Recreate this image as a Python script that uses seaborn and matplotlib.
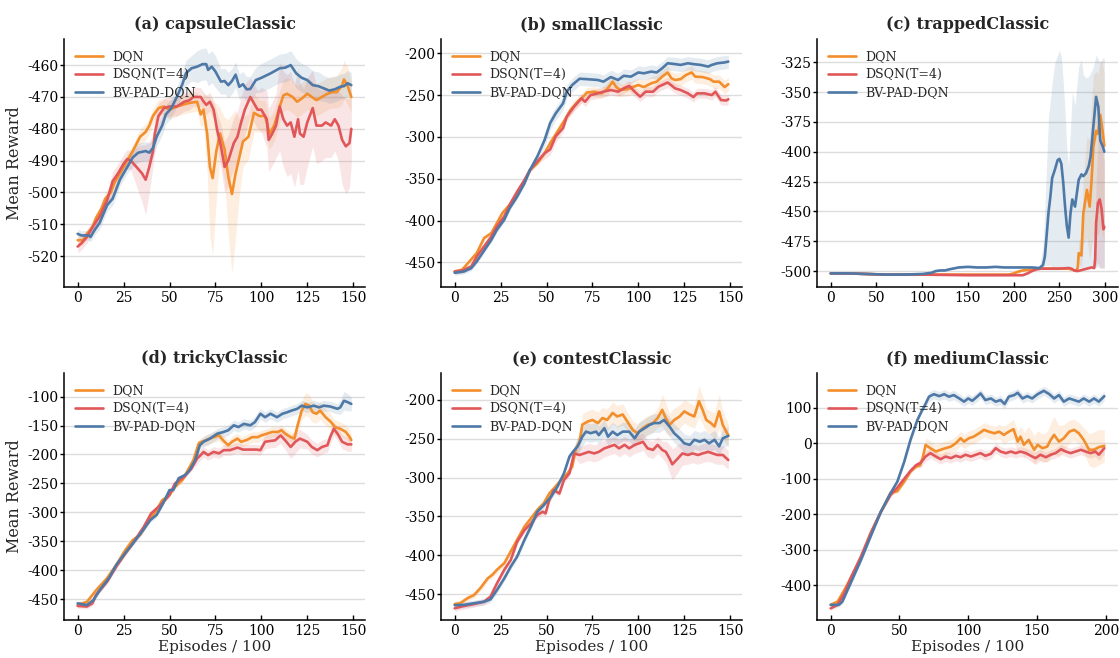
import numpy as np
import pandas as pd
import matplotlib
matplotlib.use("Agg")
import matplotlib.pyplot as plt
import seaborn as sns

# ---------------------------------------------------------------- data
METHODS = ["DQN", "DSQN(T=4)", "BV-PAD-DQN"]
COLORS = {"DQN": "#f28e2b", "DSQN(T=4)": "#e15759", "BV-PAD-DQN": "#4e79a7"}

# (a) capsuleClassic
cap_dqn_x = [0, 3, 5, 8, 10, 13, 15, 18, 20, 23, 25, 28, 30, 34, 37, 39, 41, 44, 47, 50, 54, 60, 65, 67, 68.5, 70.5, 72, 73.5, 75.5, 77.5, 80, 82, 84, 86, 88, 90, 93, 96, 99, 102, 104.5, 107, 109.5, 112, 114, 117, 119.5, 122, 125, 127.5, 130, 133, 136, 138.5, 141, 144, 145, 147, 149]
cap_dqn_y = [-515, -515, -513, -511, -508, -505, -502, -500, -497, -494, -492, -489, -487, -482.5, -481, -479, -476, -473.5, -473, -474, -473, -472, -471.5, -475.5, -474, -481.5, -492, -495.5, -487, -481.5, -486.5, -495, -500.5, -494, -489, -484, -482.5, -475, -476, -476, -481.5, -479, -474, -469.5, -469, -470, -471.5, -470.5, -469, -470, -471, -470, -469, -468.5, -468.5, -466.5, -464.5, -466.5, -470]
cap_dqn_sd = [1.5, 1.5, 1.5, 1.5, 1.5, 2, 2, 2, 2, 2, 2, 2, 2, 2.5, 2.5, 2.5, 2.5, 2.5, 2.5, 3, 3, 3, 3, 4, 5, 12, 22, 24, 15, 8, 10, 18, 25, 20, 12, 8, 7, 6, 5, 5, 5, 5, 5, 5, 5, 5, 5, 5, 5, 5, 5, 5, 5, 5, 5, 6, 6, 6, 5]

cap_dsqn_x = [0, 2, 5, 8, 12, 16, 19, 22, 25, 27, 29, 32, 35, 37, 39, 41, 42, 44, 47, 50, 54, 58, 61, 63, 67, 68, 70, 72, 74, 76, 78, 80, 82, 85, 87, 89, 91, 94, 96, 98, 100, 103, 104, 106, 108, 110, 112, 114, 116, 118, 120, 121, 123, 125, 128, 130, 133, 135, 138, 140, 142, 144, 146, 148, 149]
cap_dsqn_y = [-517, -516, -514, -511, -507.5, -502.5, -496.5, -494, -491, -489.5, -490, -492, -494, -496, -492, -487, -481.5, -476, -473.5, -473, -473, -471.5, -471, -470, -470, -471, -472.5, -471.5, -474, -480.5, -485.5, -492, -490, -484.5, -482.5, -478, -474, -470, -472, -474, -474, -477, -483.5, -481.5, -479, -473, -477, -479, -478, -482.5, -477, -481.5, -482.5, -478, -473.5, -479, -479, -478, -479, -477, -479, -483.5, -485.5, -484.5, -480]
cap_dsqn_sd = [2, 2, 2, 2, 2, 2, 3, 3, 3, 3, 3, 6, 9, 11, 8, 5, 5, 4, 3, 3, 3, 3, 3, 3, 3, 3, 3, 3, 3, 5, 7, 8, 8, 8, 8, 8, 8, 6, 6, 6, 7, 9, 10, 10, 10, 14, 15, 16, 16, 16, 16, 16, 15, 14, 12, 12, 11, 11, 10, 10, 11, 14, 15, 14, 11]

cap_bv_x = [0, 2, 4, 6, 7, 9, 12, 16, 19, 23, 27, 30, 33, 37, 39, 41, 43, 46, 48, 51, 54, 57, 59, 62, 65, 68, 70, 71, 73, 75, 78, 80, 82, 84, 86, 88, 90, 92, 94, 97, 100, 105, 110, 113, 116, 119, 122, 125, 128, 131, 134, 137, 140, 143, 145, 147, 149]
cap_bv_y = [-513, -513.5, -513.5, -513.5, -514, -512, -509.5, -504, -502, -496, -492, -489, -487.5, -487, -487.5, -486, -482.5, -479, -475.5, -473.5, -470, -466, -462.5, -461, -460.5, -459.7, -459.7, -461.5, -460.5, -462, -465.2, -465, -466.3, -465, -463, -466.8, -466, -467.6, -467.5, -464.7, -464, -462.6, -461, -460.8, -460, -462.6, -464, -464.7, -466.3, -466.6, -467.3, -468, -467.6, -466.8, -466.6, -465.7, -466.3]
cap_bv_sd = [1.5, 1.5, 1.5, 1.5, 1.5, 1.5, 2, 2, 2, 2, 2, 3, 3, 3, 3, 3, 3, 3, 3, 3, 3, 4, 4, 4, 5, 5, 5, 5, 5, 5, 4, 4, 4, 4, 4, 4, 4, 4, 4, 4, 4.5, 4.5, 4.5, 4.5, 4.5, 4.5, 4.5, 4.5, 4.5, 4.5, 4, 4, 4, 4, 4, 4, 4]

# (b) smallClassic
sml_dqn_x = [0, 4, 8, 12, 16, 20, 23, 26, 30, 34, 38, 41, 45, 49, 52, 56, 60, 63, 67, 70, 72, 76, 80, 83, 86, 88, 90, 94, 97, 100, 103, 107, 110, 113, 116, 118, 120, 123, 126, 129, 131, 135, 139, 141, 144, 147, 149]
sml_dqn_y = [-461, -459, -449, -439, -421, -415, -403, -391, -381, -367.5, -353.5, -339.5, -331.5, -319.5, -307.5, -293.5, -279.5, -268, -258, -252, -247, -246, -248, -243, -234, -240.5, -244, -243, -240.5, -238, -240.5, -236, -234, -228, -223, -230, -232, -231, -226, -223, -228, -228.5, -231, -234, -234, -240.5, -237]
sml_dqn_sd = [3, 3, 3, 3, 3, 3, 3, 3, 3, 3, 3, 3, 3, 3, 3, 3, 3, 6, 6, 6, 6, 6, 6, 8, 8, 8, 8, 8, 8, 8, 8, 8, 8, 8, 8, 8, 8, 8, 8, 8, 8, 8, 8, 8, 8, 8, 8]

sml_dsqn_x = [0, 4, 9, 12, 16, 20, 23, 27, 30, 34, 38, 41, 45, 49, 52, 55, 59, 61, 65, 69, 71, 74, 78, 81, 85, 89, 92, 95, 98, 101, 104, 108, 111, 116, 120, 123, 127, 130, 132, 136, 140, 142, 145, 148, 149]
sml_dsqn_y = [-461, -460, -455, -443, -431, -419, -407, -395, -381, -365.5, -351.5, -339.5, -329.5, -319.5, -315, -299.5, -289.5, -276, -264, -254, -258, -250, -248, -246, -244, -246, -242, -239, -246, -252, -246, -246, -240, -235, -242, -244, -248, -252.5, -248, -248, -250, -246, -256, -256.5, -255]
sml_dsqn_sd = [3, 3, 3, 3, 3, 3, 3, 3, 3, 3, 3, 3, 3, 7, 7, 7, 5, 5, 5, 5, 6, 6, 6, 6, 6, 6, 6, 6, 6, 6, 6, 6, 6, 6, 6, 6, 6, 6, 6, 6, 6, 6, 6, 6, 6]

sml_bv_x = [0, 5, 9, 12, 16, 20, 23, 27, 30, 34, 38, 41, 45, 49, 52, 55, 59, 61, 64, 68, 72, 78, 81, 85, 89, 92, 96, 100, 103, 107, 110, 113, 116, 120, 123, 127, 130, 134, 138, 140, 143, 147, 149]
sml_bv_y = [-462.5, -461, -457, -449, -436, -423, -411, -399, -385, -371.5, -355.5, -339.5, -323.5, -303.5, -283.5, -272, -260, -246, -238, -230.5, -231, -232, -234, -228.5, -232, -227, -228, -223, -224, -222, -223, -218, -212, -213, -214, -212, -213, -214, -216, -214, -212, -211, -210]
sml_bv_sd = [3, 3, 3, 3, 3, 3, 3, 3, 3, 3, 3, 3, 3, 8, 8, 8, 8, 8, 8, 8, 8, 8, 8, 8, 8, 8, 8, 8, 8, 8, 8, 8, 8, 8, 8, 8, 8, 8, 8, 8, 8, 8, 8]

# (c) trappedClassic  (asymmetric spread: below / above the mean)
trp_dqn_x = [0, 20, 40, 60, 100, 150, 195, 200, 205, 210, 220, 230, 240, 250, 260, 265, 268, 270, 271, 274, 276, 280, 283, 285, 287, 290, 292, 294.5, 296.5, 299]
trp_dqn_y = [-502, -502, -502.5, -503, -503, -503, -503, -502, -500.5, -499.5, -498.5, -498, -498, -498, -498, -499, -500, -497, -485, -487, -452, -432, -446, -425, -396, -382.5, -385, -369, -379, -395]
trp_dqn_lo = [0.8, 0.8, 0.8, 0.8, 0.8, 0.8, 0.8, 0.8, 0.8, 0.8, 0.8, 0.8, 0.8, 0.8, 0.8, 0.8, 0.8, 2, 8, 10, 25, 40, 45, 55, 75, 85, 85, 95, 90, 80]
trp_dqn_hi = [0.8, 0.8, 0.8, 0.8, 0.8, 0.8, 0.8, 0.8, 0.8, 0.8, 0.8, 0.8, 0.8, 0.8, 0.8, 0.8, 0.8, 3, 10, 15, 30, 45, 55, 65, 60, 50, 50, 45, 55, 60]

trp_dsqn_x = [0, 20, 40, 60, 100, 150, 200, 210, 215, 220, 225, 230, 240, 250, 260, 263, 266, 270, 275, 280, 285, 288, 289, 290, 292, 294, 296, 298, 299]
trp_dsqn_y = [-502, -502, -502.5, -503, -503, -503.5, -503.5, -503.5, -502, -500, -498.5, -498, -498, -498, -497.5, -498, -499.5, -500, -499, -498, -497, -497.5, -490, -460, -443, -440, -448, -465, -463]
trp_dsqn_lo = [0.8, 0.8, 0.8, 0.8, 0.8, 0.8, 0.8, 0.8, 0.8, 0.8, 0.8, 0.8, 0.8, 0.8, 0.8, 0.8, 0.8, 0.8, 0.8, 0.8, 0.8, 1, 5, 35, 50, 57, 50, 33, 35]
trp_dsqn_hi = [0.8, 0.8, 0.8, 0.8, 0.8, 0.8, 0.8, 0.8, 0.8, 0.8, 0.8, 0.8, 0.8, 0.8, 0.8, 0.8, 0.8, 0.8, 0.8, 0.8, 0.8, 2, 10, 35, 50, 55, 60, 60, 55]

trp_bv_x = [0, 20, 40, 60, 80, 100, 110, 115, 120, 125, 130, 140, 150, 160, 170, 180, 190, 200, 210, 220, 228, 232, 234, 236, 238, 240, 242, 245, 248, 250, 252, 254, 256, 258, 260, 262, 264, 267, 271, 274, 276, 279, 282, 284, 287, 290, 292.5, 294.5, 297.5, 299]
trp_bv_y = [-502, -502, -502.5, -503, -503, -502.5, -501.5, -500, -499.5, -499.5, -498.5, -497, -496.5, -497, -497, -496.5, -497, -497, -497, -497, -497.5, -495, -488, -470, -451, -438, -422, -415, -407, -406, -410, -425, -445, -462, -472, -452, -440, -446, -423.5, -419, -420.5, -418, -412, -404, -379, -354, -362.5, -390.5, -396, -400]
trp_bv_lo = [0.8, 0.8, 0.8, 0.8, 0.8, 0.8, 0.8, 0.8, 0.8, 0.8, 0.8, 0.8, 0.8, 0.8, 0.8, 0.8, 0.8, 0.8, 0.8, 0.8, 0.8, 3, 8, 25, 45, 57, 75, 82, 90, 91, 87, 72, 52, 35, 26, 45, 57, 51, 74, 78, 77, 79, 85, 93, 118, 143, 134, 107, 101, 97]
trp_bv_hi = [0.8, 0.8, 0.8, 0.8, 0.8, 0.8, 0.8, 0.8, 0.8, 0.8, 0.8, 0.8, 0.8, 0.8, 0.8, 0.8, 0.8, 0.8, 0.8, 0.8, 0.8, 15, 40, 60, 80, 80, 80, 90, 88, 91, 90, 85, 80, 65, 60, 70, 90, 85, 95, 96, 85, 80, 75, 70, 50, 35, 40, 65, 75, 78]

# (d) trickyClassic
trk_dqn_x = [0, 5, 10, 16, 21, 26, 30, 34, 38, 43, 46, 49, 53, 57, 60, 63, 66, 70, 74, 77, 79, 82, 84, 87, 89, 92, 95, 98, 100, 103, 106, 109, 111, 113, 116, 118, 119.5, 122, 124, 126, 128, 130, 132, 135, 138, 140, 143, 146, 148, 149]
trk_dqn_y = [-460, -455, -435, -414, -391, -365, -348, -339, -319, -296, -279, -273, -256, -244, -227, -210, -180, -175, -170, -167, -175, -184, -178, -172.5, -178, -175, -170, -170, -167, -164, -161, -161, -158, -164, -170, -172.5, -152.5, -124, -112.5, -115.5, -127, -129.5, -124, -135.5, -144, -152.5, -155.5, -161, -169.5, -175]
trk_dqn_sd = [4, 4, 4, 4, 4, 4, 4, 4, 4, 4, 4, 4, 4, 4, 4, 6, 6, 9, 9, 9, 9, 9, 9, 9, 9, 9, 9, 9, 9, 9, 9, 9, 9, 9, 9, 9, 12, 16, 20, 20, 18, 16, 15, 14, 13, 13, 12, 12, 12, 10]

trk_dsqn_x = [0, 5, 8, 10, 16, 21, 26, 30, 36, 40, 45, 50, 53, 58, 62, 65, 67, 68.5, 71, 74, 77, 79.5, 83, 87, 90, 94, 97.5, 99.5, 102, 105, 107.5, 110.5, 113, 116, 118.5, 121, 125, 127.5, 130.5, 133, 136, 137.5, 139.5, 141.5, 144, 147, 149]
trk_dsqn_y = [-462, -463, -457.5, -443, -420, -394, -371, -354, -325, -302, -287.5, -270, -250, -238.5, -224, -207, -201, -195.5, -201, -195.5, -198, -192.5, -192.5, -188, -191.5, -191.5, -191.5, -192.5, -178, -176.5, -175.5, -167, -175.5, -187, -178, -172.5, -178, -187, -192.5, -187, -184, -170, -155.5, -164, -178, -182.5, -182.5]
trk_dsqn_sd = [4, 4, 4, 4, 4, 4, 4, 4, 4, 4, 4, 4, 4, 4, 4, 9, 9, 9, 9, 9, 9, 9, 9, 9, 9, 9, 9, 9, 12, 12, 12, 14, 16, 20, 20, 16, 13, 12, 12, 12, 12, 12, 12, 12, 12, 12, 12]

trk_bv_x = [0, 5, 8.5, 12, 17, 21, 26, 30, 35, 39.5, 43, 46.5, 50, 52, 55, 58.5, 61, 64, 66.5, 68.5, 72, 76, 79.5, 82, 85, 87.5, 90.5, 94, 96.5, 99.5, 102, 105, 108.5, 111.5, 114, 116.5, 119.5, 122, 125, 128.5, 131.5, 134, 137.5, 141.5, 143, 145, 147, 149]
trk_bv_y = [-457.5, -460.5, -452, -434.5, -414, -391, -370, -354, -333.5, -313.5, -304.5, -284.5, -261.5, -261.5, -241, -235.5, -227, -209.5, -184, -178, -172.5, -164, -161, -158, -149.5, -152.5, -147, -149.5, -144, -129.5, -135.5, -129.5, -135.5, -129.5, -127, -124, -121, -115.5, -118.5, -115.5, -118.5, -115.5, -117, -121, -118.5, -107, -109.5, -112.5]
trk_bv_sd = [4, 4, 4, 4, 4, 4, 4, 4, 4, 4, 4, 4, 4, 4, 4, 4, 4, 4, 9, 9, 9, 9, 9, 9, 9, 9, 9, 9, 9, 9, 9, 9, 9, 9, 9, 9, 9, 9, 9, 9, 9, 9, 9, 9, 12, 16, 15, 12]

# (e) contestClassic
cnt_dqn_x = [0, 3, 7, 10.5, 14, 18, 20.5, 23, 27, 30.5, 34, 38, 41.5, 45, 48.5, 51.5, 54, 58, 61.5, 64, 66, 68, 69.5, 72.5, 75, 78, 80.5, 83, 86, 88.5, 91.5, 94, 97, 99.5, 102.5, 105, 108, 110.5, 113, 114.5, 117, 119.5, 122.5, 125, 128, 130.5, 133, 135, 137, 139.5, 141.5, 144, 146, 149]
cnt_dqn_y = [-462.5, -461.5, -455, -451, -442, -429.5, -425, -418.5, -410, -395, -380, -363, -352.5, -341.5, -333, -320.5, -314, -303, -294.5, -286, -262.5, -254, -232, -228, -226, -230, -223.5, -226, -217, -221.5, -219, -228, -239, -243, -236.5, -232.5, -230, -223.5, -213, -221.5, -232.5, -226, -221.5, -215, -219, -221.5, -202, -213, -226, -230, -234.5, -215, -232.5, -246]
cnt_dqn_sd = [4, 4, 4, 4, 4, 4, 4, 4, 4, 4, 4, 4, 4, 4, 4, 4, 4, 4, 4, 4, 8, 10, 14, 14, 14, 14, 14, 14, 14, 14, 14, 12, 12, 12, 12, 12, 12, 12, 20, 20, 15, 15, 15, 15, 15, 15, 20, 18, 15, 15, 18, 22, 18, 15]

cnt_dsqn_x = [0, 5, 10.5, 16, 19.5, 23, 27, 30.5, 34, 38, 41.5, 45, 48, 49.5, 51.5, 54, 57, 59.5, 62.5, 65, 68, 70.5, 73, 76, 78.5, 81.5, 84, 87, 89.5, 92.5, 95, 98, 100.5, 102.5, 105, 108, 110.5, 113, 115, 117, 118.5, 121.5, 124, 127, 129.5, 132.5, 135, 138, 140.5, 143, 146, 149]
cnt_dsqn_y = [-468, -465, -462.5, -459.5, -453, -436, -418.5, -406, -382.5, -367.5, -359, -348, -344, -346, -329, -316, -320.5, -303, -294.5, -269, -271, -269, -267, -269, -267, -262.5, -260.5, -258, -262.5, -258, -262.5, -258, -256, -254, -262.5, -264.5, -258, -264.5, -267, -275.5, -283, -275.5, -269, -271, -269, -271, -269, -267, -269, -271, -271, -277.5]
cnt_dsqn_sd = [4, 4, 4, 4, 4, 4, 4, 4, 4, 4, 4, 4, 4, 4, 4, 4, 4, 4, 4, 4, 11, 11, 11, 11, 11, 11, 11, 11, 11, 11, 11, 11, 11, 11, 11, 11, 11, 11, 14, 18, 20, 18, 15, 12, 12, 12, 12, 12, 12, 12, 12, 12]

cnt_bv_x = [0, 5, 10.5, 16, 19.5, 23, 27, 30.5, 34, 38, 41.5, 45, 48.5, 52.5, 56, 59.5, 62.5, 64.5, 67, 69.5, 71.5, 74, 77, 78.5, 81.5, 83.5, 86, 88.5, 91.5, 95, 98, 100.5, 103.5, 106, 108.5, 111.5, 114, 117, 119.5, 122.5, 125, 128, 130.5, 133.5, 136, 138.5, 141.5, 144, 146, 149]
cnt_bv_y = [-464, -463.5, -461.5, -459.5, -456.5, -444.5, -429.5, -414.5, -401.5, -380, -363, -344, -335.5, -324.5, -311.5, -294.5, -273, -266.5, -260, -247.5, -241, -243, -241, -245.5, -236.5, -247.5, -241, -245.5, -241, -241, -249.5, -241, -236.5, -232.5, -230, -230, -226, -234.5, -243, -249.5, -256, -258, -251.5, -254, -251.5, -256, -251.5, -260, -249.5, -246.5]
cnt_bv_sd = [4, 4, 4, 4, 4, 4, 4, 4, 4, 4, 4, 4, 4, 4, 4, 4, 4, 4, 12, 12, 12, 12, 12, 12, 12, 12, 12, 12, 12, 12, 12, 12, 12, 12, 12, 12, 12, 12, 12, 12, 12, 12, 12, 12, 12, 12, 12, 12, 12, 12]

# (f) mediumClassic
med_dqn_x = [0, 5, 10, 14.5, 22, 29, 36.5, 43.5, 48.5, 53.5, 58, 62, 65, 67, 69, 72.5, 76.5, 80, 83.5, 87.5, 91, 94.5, 97, 100.5, 104, 108, 111.5, 115, 119, 122.5, 126, 129.5, 133, 136, 138, 140.5, 144, 148, 150.5, 154, 157.5, 160, 162.5, 166, 169.5, 173.5, 177, 180.5, 184, 188, 191.5, 195, 199]
med_dqn_y = [-455, -446, -413, -380, -324, -254, -193, -140, -135, -108, -80, -66, -62, -40, -5, -14, -23.5, -18.5, -14, -9.5, 0, 14, 4.5, 14, 18.5, 28, 37.5, 32.5, 28, 32.5, 23.5, 32.5, 39.5, 4.5, 18.5, -4.5, 9.5, -18.5, -4.5, -14, -9.5, 9.5, 23.5, 4.5, 14, 32.5, 37.5, 28, 9.5, -18.5, -18.5, -11, -7.5]
med_dqn_sd = [6, 6, 6, 6, 6, 6, 6, 6, 6, 6, 6, 6, 6, 10, 20, 20, 20, 20, 20, 20, 20, 20, 20, 20, 20, 20, 20, 20, 20, 20, 25, 25, 28, 30, 30, 35, 38, 40, 40, 40, 42, 48, 52, 45, 38, 32, 30, 30, 35, 45, 50, 50, 45]

med_dsqn_x = [0, 5, 10, 14.5, 22, 29, 36.5, 43.5, 48.5, 53.5, 58, 62, 65.5, 69, 72.5, 76.5, 80, 83.5, 87.5, 91, 94.5, 98, 102, 105.5, 109, 112.5, 116.5, 120, 123.5, 127.5, 131, 134.5, 138, 142, 145.5, 149, 152.5, 156.5, 160, 163.5, 167.5, 171, 174.5, 178, 182, 185.5, 189, 192.5, 195, 199]
med_dsqn_y = [-465, -455, -422, -380, -319, -254, -193, -146, -125, -100, -78, -62, -55, -37.5, -28, -37.5, -45, -37.5, -42, -35.5, -39.5, -32.5, -37.5, -32.5, -28, -35.5, -30, -14, -23.5, -28, -23.5, -28, -23.5, -28, -35.5, -42, -32.5, -39.5, -32.5, -28, -17, -23.5, -28, -23.5, -18.5, -23.5, -28, -23.5, -32.5, -14]
med_dsqn_sd = [6, 6, 6, 6, 6, 6, 6, 6, 6, 6, 6, 6, 14, 14, 14, 14, 14, 14, 14, 14, 14, 14, 14, 14, 14, 14, 14, 14, 14, 14, 14, 14, 14, 14, 16, 18, 16, 14, 14, 14, 14, 14, 14, 14, 14, 14, 14, 14, 16, 16]

med_bv_x = [0, 6, 8.5, 14.5, 22, 29, 36.5, 43.5, 48.5, 53.5, 58, 63, 66.5, 68, 71.5, 75, 79, 82.5, 86, 89.5, 93.5, 97, 100, 103, 106.5, 109, 112.5, 116.5, 120, 123.5, 126.5, 129.5, 133.5, 136, 139.5, 143, 146.5, 150.5, 155, 159, 162.5, 166, 169.5, 173.5, 177, 180.5, 184, 188, 191.5, 195, 199]
med_bv_y = [-455, -455, -446, -394, -329, -263, -193, -141, -108, -52, 9, 65, 93, 103, 131, 138, 132.5, 138, 131, 135.5, 126, 117, 126, 119.5, 131, 140, 121.5, 126, 117, 121.5, 110.5, 131, 135.5, 142, 126, 132.5, 126, 138, 147.5, 138, 126, 135.5, 117, 126, 121.5, 117, 126, 117, 126, 117, 132.5]
med_bv_sd = [6, 6, 6, 6, 6, 6, 6, 6, 6, 6, 8, 8, 8, 8, 13, 13, 13, 13, 13, 13, 13, 13, 13, 13, 13, 13, 13, 13, 13, 13, 13, 13, 13, 13, 13, 13, 13, 13, 13, 13, 13, 13, 13, 13, 13, 13, 13, 13, 13, 13, 13]

PANELS = [
    dict(title="(a) capsuleClassic", xmax=149,
         ylim=(-529.7, -451.8), yticks=[-520, -510, -500, -490, -480, -470, -460],
         xticks=[0, 25, 50, 75, 100, 125, 150],
         curves=[(cap_dqn_x, cap_dqn_y, cap_dqn_sd, cap_dqn_sd),
                 (cap_dsqn_x, cap_dsqn_y, cap_dsqn_sd, cap_dsqn_sd),
                 (cap_bv_x, cap_bv_y, cap_bv_sd, cap_bv_sd)]),
    dict(title="(b) smallClassic", xmax=149,
         ylim=(-479.5, -183), yticks=[-450, -400, -350, -300, -250, -200],
         xticks=[0, 25, 50, 75, 100, 125, 150],
         curves=[(sml_dqn_x, sml_dqn_y, sml_dqn_sd, sml_dqn_sd),
                 (sml_dsqn_x, sml_dsqn_y, sml_dsqn_sd, sml_dsqn_sd),
                 (sml_bv_x, sml_bv_y, sml_bv_sd, sml_bv_sd)]),
    dict(title="(c) trappedClassic", xmax=299,
         ylim=(-513.4, -305.5), yticks=[-500, -475, -450, -425, -400, -375, -350, -325],
         xticks=[0, 50, 100, 150, 200, 250, 300],
         curves=[(trp_dqn_x, trp_dqn_y, trp_dqn_lo, trp_dqn_hi),
                 (trp_dsqn_x, trp_dsqn_y, trp_dsqn_lo, trp_dsqn_hi),
                 (trp_bv_x, trp_bv_y, trp_bv_lo, trp_bv_hi)]),
    dict(title="(d) trickyClassic", xmax=149,
         ylim=(-486.3, -58.5), yticks=[-450, -400, -350, -300, -250, -200, -150, -100],
         xticks=[0, 25, 50, 75, 100, 125, 150],
         curves=[(trk_dqn_x, trk_dqn_y, trk_dqn_sd, trk_dqn_sd),
                 (trk_dsqn_x, trk_dsqn_y, trk_dsqn_sd, trk_dsqn_sd),
                 (trk_bv_x, trk_bv_y, trk_bv_sd, trk_bv_sd)]),
    dict(title="(e) contestClassic", xmax=149,
         ylim=(-483, -165.3), yticks=[-450, -400, -350, -300, -250, -200],
         xticks=[0, 25, 50, 75, 100, 125, 150],
         curves=[(cnt_dqn_x, cnt_dqn_y, cnt_dqn_sd, cnt_dqn_sd),
                 (cnt_dsqn_x, cnt_dsqn_y, cnt_dsqn_sd, cnt_dsqn_sd),
                 (cnt_bv_x, cnt_bv_y, cnt_bv_sd, cnt_bv_sd)]),
    dict(title="(f) mediumClassic", xmax=199,
         ylim=(-497.7, 198.5), yticks=[-400, -300, -200, -100, 0, 100],
         xticks=[0, 50, 100, 150, 200],
         curves=[(med_dqn_x, med_dqn_y, med_dqn_sd, med_dqn_sd),
                 (med_dsqn_x, med_dsqn_y, med_dsqn_sd, med_dsqn_sd),
                 (med_bv_x, med_bv_y, med_bv_sd, med_bv_sd)]),
]

# ---------------------------------------------------------------- style
sns.set_style("ticks")
plt.rcParams["font.family"] = ["DejaVu Serif"]
plt.rcParams["axes.unicode_minus"] = False

W, H = 1120, 658
fig = plt.figure(figsize=(W / 100, H / 100), dpi=100)

lefts = [64, 441, 817]
rows = [(39, 287), (372.7, 620)]
axes_w = 301


def draw_panel(ax, spec, row, col):
    frames = []
    for name, (x, y, sd_lo, sd_hi) in zip(METHODS, spec["curves"]):
        assert len(x) == len(y) == len(sd_lo) == len(sd_hi), (spec["title"], name)
        x = np.asarray(x, float)
        y = np.asarray(y, float)
        lo = y - np.asarray(sd_lo, float)
        hi = y + np.asarray(sd_hi, float)
        ax.fill_between(x, lo, hi, color=COLORS[name], alpha=0.15,
                        linewidth=0, zorder=1)
        frames.append(pd.DataFrame({"episode": x, "reward": y, "method": name}))
    df = pd.concat(frames, ignore_index=True)
    sns.lineplot(data=df, x="episode", y="reward", hue="method",
                 hue_order=METHODS, palette=COLORS, estimator=None,
                 linewidth=1.9, ax=ax, zorder=3)

    xmax = spec["xmax"]
    ax.set_xlim(-0.05 * xmax, 1.05 * xmax)
    ax.set_ylim(*spec["ylim"])
    ax.set_yticks(spec["yticks"])
    ax.set_xticks(spec["xticks"])
    # y ticks point out, x ticks point into the plot
    ax.tick_params(axis="y", labelsize=10, direction="out",
                   length=3, width=1, pad=1, colors="black")
    ax.tick_params(axis="x", labelsize=10, direction="in",
                   length=3.5, width=1, pad=3, colors="black")
    ax.yaxis.grid(True, color="#dddddd", linewidth=1.0)
    ax.xaxis.grid(False)
    ax.set_axisbelow(True)
    sns.despine(ax=ax)
    for s in ("left", "bottom"):
        ax.spines[s].set_linewidth(1.1)
        ax.spines[s].set_color("black")

    ax.set_title(spec["title"], fontsize=11.5, fontweight="bold", pad=7)
    ax.set_ylabel("Mean Reward" if col == 0 else "", fontsize=11.5, labelpad=3)
    ax.set_xlabel("Episodes / 100" if row == 1 else "", fontsize=11, labelpad=1)
    ax.legend(loc="upper left", frameon=False, fontsize=9,
              handlelength=2.2, handletextpad=0.8, labelspacing=0.4,
              borderaxespad=0.5)


for i, spec in enumerate(PANELS):
    r, c = divmod(i, 3)
    top, bottom = rows[r]
    ax = fig.add_axes([lefts[c] / W, (H - bottom) / H,
                       axes_w / W, (bottom - top) / H])
    draw_panel(ax, spec, r, c)

fig.savefig("out.png", dpi=100)
